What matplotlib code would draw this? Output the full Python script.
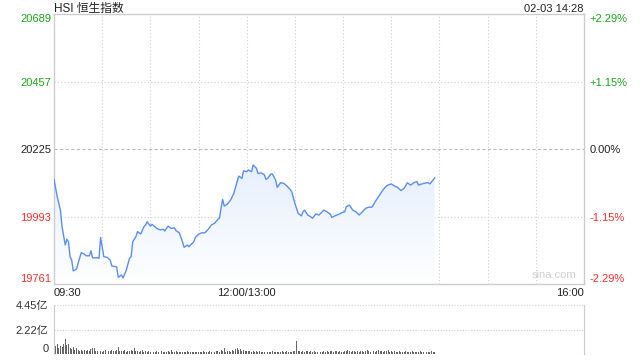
import numpy as np
import matplotlib
matplotlib.use("Agg")
import matplotlib.pyplot as plt
from matplotlib.patches import Polygon

plt.rcParams['font.family'] = ['Liberation Sans', 'Noto Sans CJK SC', 'DejaVu Sans']

# trading minutes after 09:30 (lunch break removed) and index level
minutes = [0, 2, 4, 5, 7, 8, 9, 10, 11, 12, 14, 15, 17, 19, 20, 22, 23, 24, 27, 28,
           29, 31, 33, 35, 36, 39, 40, 42, 43, 45, 47, 48, 49, 51, 52, 54, 56, 57, 58, 60,
           61, 64, 66, 68, 69, 71, 73, 75, 76, 78, 80, 81, 83, 84, 85, 87, 88, 90, 92, 94,
           96, 98, 100, 102, 103, 104, 105, 106, 108, 110, 112, 114, 115, 117, 118, 120, 121, 123, 124, 126,
           127, 129, 131, 132, 133, 135, 136, 138, 139, 141, 143, 145, 147, 148, 150, 152, 154, 155, 156, 158,
           159, 161, 163, 165, 168, 170, 172, 173, 176, 178, 179, 181, 182, 184, 186, 188, 190, 192, 194, 196,
           198, 200, 202, 204, 205, 207, 208, 210, 212, 214, 216, 218, 220, 222, 224, 226, 227, 229, 232, 233,
           234, 236, 237]
prices = [20121, 20061, 20015, 19958, 19895, 19915, 19906, 19855, 19843, 19806, 19812, 19832, 19869, 19863, 19858, 19858, 19875, 19851, 19851, 19849,
          19921, 19855, 19853, 19843, 19823, 19820, 19784, 19792, 19782, 19809, 19849, 19855, 19906, 19924, 19941, 19933, 19958, 19964, 19975, 19960,
          19966, 19952, 19947, 19949, 19943, 19960, 19952, 19954, 19944, 19937, 19906, 19887, 19895, 19889, 19895, 19906, 19921, 19932, 19937, 19937,
          19949, 19964, 19970, 19983, 19987, 20021, 20052, 20029, 20036, 20050, 20073, 20113, 20132, 20124, 20150, 20147, 20153, 20147, 20170, 20159,
          20141, 20143, 20136, 20121, 20124, 20139, 20139, 20118, 20093, 20109, 20107, 20098, 20086, 20078, 20038, 20004, 19995, 20009, 20015, 19998,
          19995, 19987, 20002, 19998, 20015, 20009, 20001, 19990, 19998, 20002, 20006, 20009, 20027, 20032, 20015, 20009, 19998, 20009, 20021, 20025,
          20025, 20044, 20061, 20078, 20086, 20098, 20101, 20105, 20098, 20093, 20082, 20090, 20109, 20101, 20109, 20113, 20101, 20105, 20109, 20109,
          20105, 20118, 20126]

# per-minute turnover, 亿
volumes = [4.45,
           0.70, 0.95, 0.55, 0.75, 0.60, 0.95, 1.35, 0.85, 0.95, 0.55,
           0.45, 0.60, 0.40, 0.55, 0.35, 0.30, 0.40, 0.30, 0.35, 0.30,
           0.40, 0.30, 0.45, 0.55, 0.50, 0.30, 0.25, 0.40, 0.25, 0.20,
           0.30, 0.35, 0.30, 0.25, 0.30, 0.40, 0.30, 0.25, 0.35, 0.60,
           0.30, 0.25, 0.30, 0.35, 0.20, 0.30, 0.25, 0.35, 0.30, 0.55,
           0.25, 0.30, 0.20, 0.25, 0.35, 0.20, 0.25, 0.20, 0.30, 0.20,
           0.25, 0.15, 0.20, 0.30, 0.20, 0.15, 0.25, 0.20, 0.15, 0.20,
           0.25, 0.20, 0.35, 0.15, 0.20, 0.25, 0.15, 0.20, 0.20, 0.15,
           0.20, 0.15, 0.25, 0.15, 0.20, 0.15, 0.15, 0.20, 0.15, 0.20,
           0.15, 0.20, 0.25, 0.15, 0.20, 0.15, 0.25, 0.20, 0.15, 0.20,
           0.25, 0.30, 0.20, 0.35, 0.25, 0.55, 0.20, 0.30, 0.25, 0.20,
           0.35, 0.25, 0.45, 0.50, 0.40, 0.45, 0.30, 0.35, 0.25, 0.30,
           0.25, 0.30, 0.20, 0.25, 0.20, 0.30, 0.20, 0.25, 0.20, 0.15,
           0.20, 0.25, 0.20, 0.15, 0.20, 0.25, 0.20, 0.15, 0.20, 0.15,
           0.20, 0.25, 0.15, 0.20, 0.25, 0.20, 0.15, 0.20, 0.25, 0.30,
           1.20, 0.25, 0.30, 0.20, 0.25, 0.20, 0.30, 0.25, 0.20, 0.25,
           0.20, 0.25, 0.15, 0.20, 0.25, 0.20, 0.15, 0.25, 0.20, 0.25,
           0.20, 0.30, 0.25, 0.20, 0.25, 0.30, 0.20, 0.25, 0.20, 0.15,
           0.25, 0.30, 0.35, 0.25, 0.20, 0.30, 0.25, 0.20, 0.25, 0.20,
           0.30, 0.25, 0.20, 0.30, 0.35, 0.25, 0.20, 0.30, 0.25, 0.20,
           0.25, 0.35, 0.30, 0.25, 0.20, 0.30, 0.25, 0.35, 0.20, 0.25,
           0.20, 0.25, 0.20, 0.15, 0.25, 0.20, 0.15, 0.20, 0.25, 0.20,
           0.15, 0.20, 0.25, 0.15, 0.20, 0.15, 0.20, 0.25, 0.15, 0.20,
           0.15, 0.20, 0.15, 0.20, 0.25, 0.20, 0.15]

prev_close = 20225
price_ticks = [19761, 19993, 20225, 20457, 20689]
pct_labels = ['-2.29%', '-1.15%', '0.00%', '+1.15%', '+2.29%']
vol_ticks = [0, 2.22, 4.45]
vol_labels = ['0', '2.22亿', '4.45亿']
time_ticks = [0, 120, 330]
time_labels = ['09:30', '12:00/13:00', '16:00']

green = '#1aa51a'
red = '#f52f2f'
grid_c = '#cfcfcf'
spine_c = '#cccccc'
tick_colors = [red, red, '#222222', green, green]

fig = plt.figure(figsize=(6.4, 3.6), dpi=100)
ax = fig.add_axes([0.0844, 0.2111, 0.8281, 0.75])
axv = fig.add_axes([0.0844, 0.0167, 0.8281, 0.1361])

x = np.array(minutes)
y = np.array(prices)

ax.set_xlim(0, 330)
ax.set_ylim(price_ticks[0], price_ticks[-1])

# gradient fill under the line
grad = np.linspace(0, 1, 256).reshape(-1, 1)
img = ax.imshow(grad, extent=[0, 330, price_ticks[0], max(prices)], origin='lower',
                cmap=matplotlib.colors.LinearSegmentedColormap.from_list('f', ['#ffffff', '#e6effd']),
                aspect='auto', zorder=1)
verts = [(x[0], price_ticks[0])] + list(zip(x, y)) + [(x[-1], price_ticks[0])]
poly = Polygon(verts, closed=True, facecolor='none', edgecolor='none')
ax.add_patch(poly)
img.set_clip_path(poly)

ax.plot(x, y, color='#5a8ef2', lw=1.0, zorder=3)

# grid
for t in range(30, 330, 30):
    ax.axvline(t, color=grid_c, lw=0.8, ls=(0, (1, 2)), zorder=0)
for p in [19993, 20457]:
    ax.axhline(p, color=grid_c, lw=0.8, ls=(0, (1, 2)), zorder=0)
ax.axhline(prev_close, color='#bbbbbb', lw=0.8, ls=(0, (3, 2)), zorder=0)

for s in ax.spines.values():
    s.set_color(spine_c)
    s.set_linewidth(1)

ax.set_yticks(price_ticks)
ax.set_yticklabels([str(p) for p in price_ticks], fontsize=8)
ax.tick_params(axis='y', length=0, pad=2)
for lab, c in zip(ax.get_yticklabels(), tick_colors):
    lab.set_color(c)
ax.get_yticklabels()[0].set_va('bottom')
ax.get_yticklabels()[-1].set_va('top')

ax.set_xticks(time_ticks)
ax.set_xticklabels(time_labels, fontsize=8, color='#222222')
ax.tick_params(axis='x', length=0, pad=3)
xl = ax.get_xticklabels()
xl[0].set_ha('left')
xl[-1].set_ha('right')

axr = ax.twinx()
axr.set_ylim(ax.get_ylim())
axr.set_yticks(price_ticks)
axr.set_yticklabels(pct_labels, fontsize=8)
axr.tick_params(axis='y', length=0, pad=4)
for lab, c in zip(axr.get_yticklabels(), tick_colors):
    lab.set_color(c)
axr.get_yticklabels()[0].set_va('bottom')
axr.get_yticklabels()[-1].set_va('top')
for s in axr.spines.values():
    s.set_visible(False)

ax.text(0, 1.008, 'HSI 恒生指数', transform=ax.transAxes, fontsize=8.5, color='#222222',
        ha='left', va='baseline')
ax.text(1, 1.008, '02-03 14:28', transform=ax.transAxes, fontsize=8, color='#222222',
        ha='right', va='baseline')
ax.text(0.985, 0.015, 'sina.com', transform=ax.transAxes, fontsize=8, color='#d0d0d0',
        ha='right', va='bottom')

# volume panel
axv.bar(np.arange(len(volumes)), volumes, width=0.6, color='#666666', zorder=2)
axv.set_xlim(0, 330)
axv.set_ylim(0, 4.45)
axv.set_xticks([])
axv.set_yticks(vol_ticks)
axv.set_yticklabels(vol_labels, fontsize=8, color='#333333')
axv.tick_params(axis='y', length=0, pad=4)
axv.get_yticklabels()[0].set_va('bottom')
for v in vol_ticks:
    axv.axhline(v, color=grid_c, lw=0.8, ls=(0, (1, 1.5)), zorder=0)
axv.spines['top'].set_visible(False)
axv.spines['bottom'].set_visible(False)
axv.spines['left'].set_color(spine_c)
axv.spines['right'].set_color(spine_c)

fig.savefig('out.png', dpi=100)
